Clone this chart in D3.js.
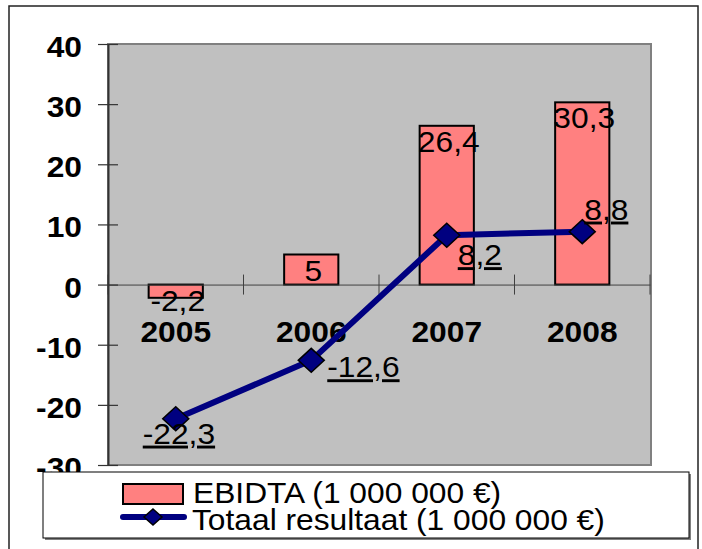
<!DOCTYPE html>
<html>
<head>
<meta charset="utf-8">
<script src="https://cdn.jsdelivr.net/npm/d3@7"></script>
<style>
  body { margin: 0; background: #fff; }
  text { font-family: "Liberation Sans", Arial, sans-serif; }
</style>
</head>
<body>
<svg id="chart" width="702" height="549"></svg>
<script>
// data
var years = ["2005", "2006", "2007", "2008"];
var ebidta = [-2.2, 5, 26.4, 30.3];
var totaal = [-22.3, -12.6, 8.2, 8.8];
var yTicks = [-30, -20, -10, 0, 10, 20, 30, 40];
var legendNames = ["EBIDTA (1 000 000 \u20ac)", "Totaal resultaat (1 000 000 \u20ac)"];

// label offsets for the line values (placed by hand in the original)
var lineLabelOffset = [[-33, 25], [16, 17], [11, 30], [2, -12]];

var svg = d3.select("#chart");
var sx = 1.095; // the original is stretched a bit in width
var fs = 29;

var x = d3.scaleBand().domain(years).range([108, 650]).padding(0);
var y = d3.scaleLinear().domain([-30, 40]).range([465, 44]);
var bw = x.bandwidth() * 0.4;
var cx = function(d) { return x(d) + x.bandwidth() / 2; };

var fmt = function(v) { return String(v).replace(".", ","); };

var addText = function(g, tx, ty, str, weight, anchor) {
    var t = g.append("text")
        .attr("transform", "translate(" + tx + "," + ty + ") scale(" + sx + ",1)")
        .attr("font-size", fs)
        .attr("font-weight", weight)
        .attr("text-anchor", anchor)
        .attr("fill", "#000")
        .text(str);
    return t;
};

// outer frame
svg.append("rect").attr("x", 9).attr("y", 6).attr("width", 689).attr("height", 560)
    .attr("fill", "#fff").attr("stroke", "#222").attr("stroke-width", 1.5);

// plot background
svg.append("rect").attr("x", 108).attr("y", 44).attr("width", 543).attr("height", 421)
    .attr("fill", "#c0c0c0").attr("stroke", "#808080").attr("stroke-width", 2);

// bars
svg.selectAll("rect.bar").data(years).enter().append("rect")
    .attr("class", "bar")
    .attr("x", function(d) { return cx(d) - bw / 2; })
    .attr("y", function(d, i) { return y(Math.max(0, ebidta[i])); })
    .attr("width", bw)
    .attr("height", function(d, i) { return Math.abs(y(ebidta[i]) - y(0)); })
    .attr("fill", "#ff8080").attr("stroke", "#000").attr("stroke-width", 2);

// x axis on zero
var xAxis = svg.append("g").attr("transform", "translate(0," + y(0) + ")")
    .call(d3.axisBottom(x).tickSize(0).tickFormat(""));
xAxis.select(".domain").attr("stroke", "#404040").attr("stroke-width", 1);
var bounds = [108].concat(years.map(function(d) { return x(d) + x.bandwidth(); }));
svg.selectAll("line.xt").data(bounds).enter().append("line")
    .attr("x1", function(d) { return d; }).attr("x2", function(d) { return d; })
    .attr("y1", y(0) - 10).attr("y2", y(0) + 10)
    .attr("stroke", "#404040").attr("stroke-width", 1);

// y axis
var yAxis = svg.append("g").attr("transform", "translate(108,0)")
    .call(d3.axisLeft(y).tickValues(yTicks).tickSize(10).tickSizeOuter(0).tickFormat(""));
yAxis.select(".domain").attr("stroke", "#333").attr("stroke-width", 2);
yAxis.selectAll(".tick line").attr("x2", -10).attr("x1", 10).attr("stroke", "#333").attr("stroke-width", 1.2);
yTicks.forEach(function(v) {
    addText(svg, 82, y(v) + 13, String(v), "bold", "end");
});

// bar labels
ebidta.forEach(function(v, i) {
    var ty = v >= 0 ? y(v) + 26 : y(v) + 13;
    addText(svg, cx(years[i]) + 2, ty, fmt(v), "normal", "middle");
});

// category labels
years.forEach(function(d) {
    addText(svg, cx(d), y(0) + 57, d, "bold", "middle");
});

// line
var line = d3.line()
    .x(function(d, i) { return cx(years[i]); })
    .y(function(d) { return y(d); });
svg.append("path").datum(totaal).attr("d", line)
    .attr("fill", "none").attr("stroke", "#000080").attr("stroke-width", 6)
    .attr("stroke-linejoin", "round");

var diamond = function(px, py, hw, hh) {
    return "M" + px + "," + (py - hh) + "L" + (px + hw) + "," + py +
        "L" + px + "," + (py + hh) + "L" + (px - hw) + "," + py + "Z";
};
svg.selectAll("path.mk").data(totaal).enter().append("path")
    .attr("class", "mk")
    .attr("d", function(d, i) { return diamond(cx(years[i]), y(d), 13, 12); })
    .attr("fill", "#000080").attr("stroke", "#000").attr("stroke-width", 1.5);

// line labels
totaal.forEach(function(v, i) {
    var o = lineLabelOffset[i];
    addText(svg, cx(years[i]) + o[0], y(v) + o[1], fmt(v), "normal", "start")
        .style("text-decoration", "underline");
});

// legend
var lg = svg.append("g");
lg.append("rect").attr("x", 45).attr("y", 474).attr("width", 646).attr("height", 66)
    .attr("fill", "#808080");
lg.append("rect").attr("x", 43).attr("y", 472).attr("width", 646).attr("height", 66)
    .attr("fill", "#fff").attr("stroke", "#000").attr("stroke-width", 1);
lg.append("rect").attr("x", 123).attr("y", 484).attr("width", 60).attr("height", 20)
    .attr("fill", "#ff8080").attr("stroke", "#000").attr("stroke-width", 2);
lg.append("line").attr("x1", 123).attr("x2", 184).attr("y1", 517).attr("y2", 517)
    .attr("stroke", "#000080").attr("stroke-width", 6).attr("stroke-linecap", "round");
lg.append("path").attr("d", diamond(153, 517, 9, 8))
    .attr("fill", "#000080").attr("stroke", "#000").attr("stroke-width", 1.5);
addText(lg, 193, 503, legendNames[0], "normal", "start");
addText(lg, 192, 530, legendNames[1], "normal", "start");
</script>
</body>
</html>
